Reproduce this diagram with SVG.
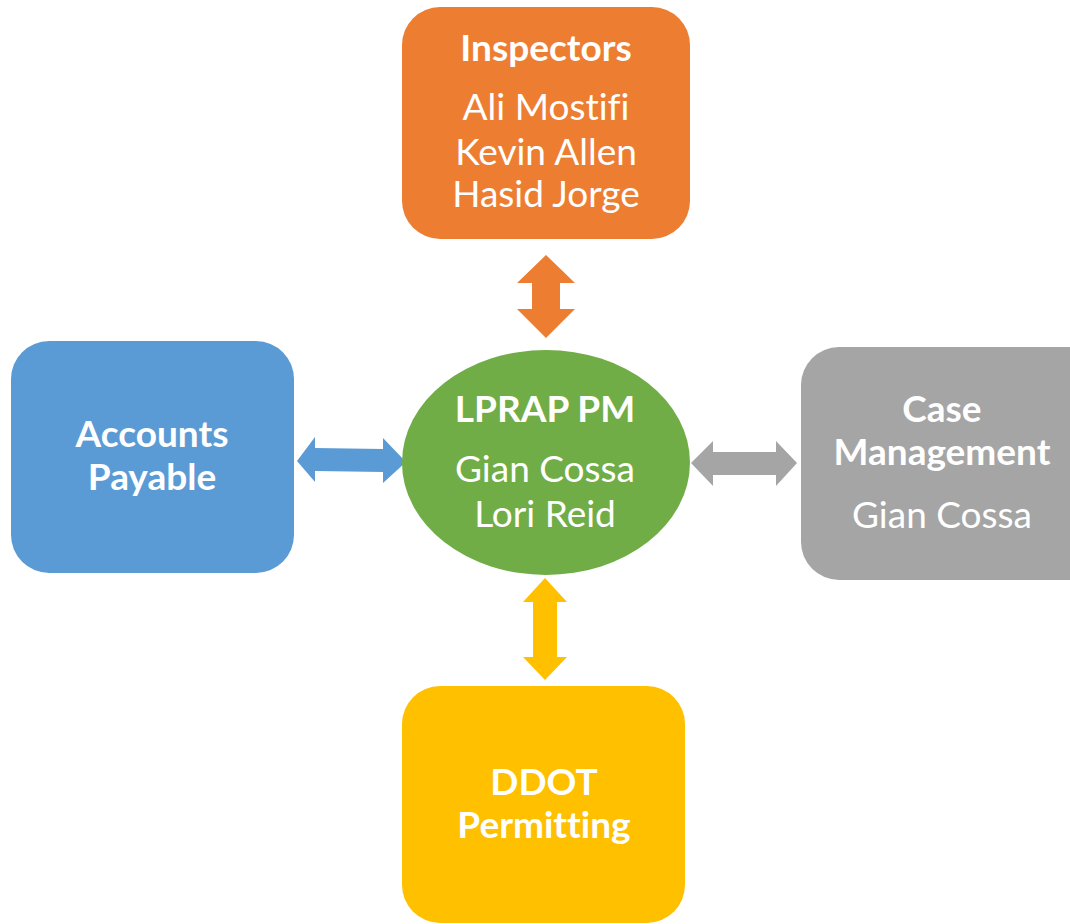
<svg xmlns="http://www.w3.org/2000/svg" width="1070" height="924" viewBox="0 0 1070 924">
<style>
text { font-family: Lato, "Open Sans", "Liberation Sans", sans-serif; fill: #ffffff; text-anchor: middle; font-variant-ligatures: none; font-feature-settings: "liga" 0, "clig" 0; }
.h { font-weight: bold; font-size: 37px; }
.n { font-size: 37px; }
</style>
<rect width="1070" height="924" fill="#ffffff"/>
<g id="connectors">
<polygon fill="#ED7D31" points="546,255 575,283 560,283 560,309 575,309 546,338 517,309 532,309 532,283 517,283"/>
<polygon fill="#5B9BD5" points="297,461 315,437 315,448 383,449 383,438 406,462 383,483 383,472 315,471 315,482"/>
<polygon fill="#A5A5A5" points="691,463 713,441 713,452 776,452 776,441 797,463 776,486 776,475 713,475 713,486"/>
<polygon fill="#FFC000" points="545,578 567,602 557,602 557,657 567,657 545,680 523,657 533,657 533,602 523,602"/>
</g>
<g id="inspectors">
<rect x="402" y="7" width="288" height="232" rx="38" fill="#ED7D31"/>
<text class="h" x="546" y="61">Inspectors</text>
<text class="n" x="546" y="120">Ali Mostifi</text>
<text class="n" x="546" y="165">Kevin Allen</text>
<text class="n" x="546" y="207">Hasid Jorge</text>
</g>
<g id="accounts-payable">
<rect x="11" y="341" width="283" height="232" rx="38" fill="#5B9BD5"/>
<text class="h" x="152" y="447">Accounts</text>
<text class="h" x="152" y="490">Payable</text>
</g>
<g id="lprap-pm">
<ellipse cx="546" cy="462.5" rx="144" ry="112.5" fill="#70AD47"/>
<text class="h" x="545" y="422">LPRAP PM</text>
<text class="n" x="545" y="482">Gian Cossa</text>
<text class="n" x="545" y="527">Lori Reid</text>
</g>
<g id="case-management">
<rect x="801" y="347" width="310" height="233" rx="38" fill="#A5A5A5"/>
<text class="h" x="942" y="422">Case</text>
<text class="h" x="942" y="465">Management</text>
<text class="n" x="942" y="528">Gian Cossa</text>
</g>
<g id="ddot-permitting">
<rect x="402" y="686" width="283" height="237" rx="38" fill="#FFC000"/>
<text class="h" x="544" y="795">DDOT</text>
<text class="h" x="544" y="838">Permitting</text>
</g>
</svg>
